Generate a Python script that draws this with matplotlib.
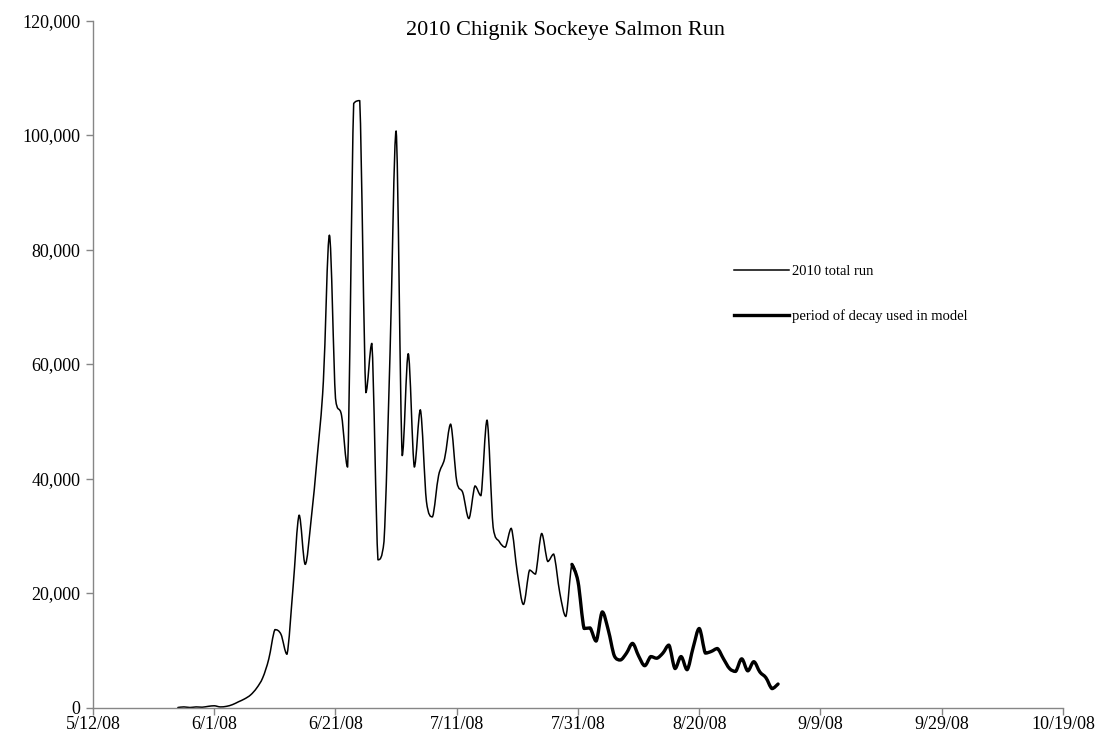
import pandas as pd
import matplotlib
matplotlib.use("Agg")
import matplotlib.pyplot as plt
import matplotlib.dates as mdates
from matplotlib.path import Path
from matplotlib.patches import PathPatch
from matplotlib.lines import Line2D
from matplotlib.ticker import FuncFormatter

# Daily sockeye counts, 5/26 through 9/2
RUN_START = "2008-05-26"
total_run = [
    0, 100, 0, 100, 50, 200, 300, 100, 200, 500,
    1000, 1500, 2200, 3400, 5200, 8500, 13600, 12800, 9300, 21000,
    33600, 25000, 33000, 44000, 57000, 82500, 54000, 51000, 42000, 105500,
    106000, 55000, 63600, 25800, 29000, 62000, 100700, 44000, 61800, 42000,
    52000, 36000, 33300, 40500, 43500, 49500, 39500, 37500, 33000, 38700,
    37000, 50200, 31500, 29000, 28000, 31300, 23500, 18000, 24000, 23300,
    30400, 25500, 26800, 20000, 15900, 25000, 22000, 13800, 13900, 11600,
    16700, 13500, 9000, 8300, 9500, 11200, 9000, 7300, 8900, 8600,
    9500, 10900, 6800, 8900, 6600, 10500, 13800, 9500, 9800, 10300,
    8500, 6800, 6300, 8500, 6400, 8000, 6200, 5200, 3300, 4100,
]
DECAY_START = "2008-07-30"

x_ticks = pd.date_range("2008-05-12", "2008-10-19", freq="20D")

dates = pd.date_range(RUN_START, periods=len(total_run), freq="D")
x_all = mdates.date2num(dates.to_pydatetime())
decay_idx = list(dates).index(pd.Timestamp(DECAY_START))


def smooth_path(xs, ys):
    # cubic bezier through every point; control points kept inside each
    # segment's y-range so the curve doesn't overshoot the peaks
    verts = [(xs[0], ys[0])]
    codes = [Path.MOVETO]
    n = len(xs)
    for i in range(n - 1):
        x0, y0 = (xs[i - 1], ys[i - 1]) if i > 0 else (xs[i], ys[i])
        x1, y1 = xs[i], ys[i]
        x2, y2 = xs[i + 1], ys[i + 1]
        x3, y3 = (xs[i + 2], ys[i + 2]) if i + 2 < n else (x2, y2)
        lo, hi = min(y1, y2), max(y1, y2)
        c1y = min(max(y1 + (y2 - y0) / 6.0, lo), hi)
        c2y = min(max(y2 - (y3 - y1) / 6.0, lo), hi)
        c1 = (x1 + (x2 - x0) / 6.0, c1y)
        c2 = (x2 - (x3 - x1) / 6.0, c2y)
        verts += [c1, c2, (x2, y2)]
        codes += [Path.CURVE4] * 3
    return Path(verts, codes)


plt.rcParams["font.family"] = ["Liberation Serif", "DejaVu Serif"]

fig = plt.figure(figsize=(11.02, 7.49), dpi=100)
ax = fig.add_axes([93 / 1102, 1 - 707.5 / 749, (1063 - 93) / 1102, (707.5 - 20.5) / 749])

ax.add_patch(PathPatch(smooth_path(x_all, total_run), fill=False,
                       edgecolor="black", lw=1.1, capstyle="round", joinstyle="round"))
ax.add_patch(PathPatch(smooth_path(x_all[decay_idx:], total_run[decay_idx:]), fill=False,
                       edgecolor="black", lw=2.4, capstyle="round", joinstyle="round"))

xt = mdates.date2num(x_ticks.to_pydatetime())
ax.set_xlim(xt[0], xt[-1])
ax.set_ylim(0, 120000)
ax.set_xticks(xt)
ax.set_xticklabels([f"{d.month}/{d.day}/{d.strftime('%y')}" for d in x_ticks])
ax.set_yticks(range(0, 120001, 20000))
ax.yaxis.set_major_formatter(FuncFormatter(lambda v, p: f"{int(v):,}"))

for side in ["top", "right"]:
    ax.spines[side].set_visible(False)
for side in ["left", "bottom"]:
    ax.spines[side].set_color("#868686")
    ax.spines[side].set_linewidth(1.0)
ax.tick_params(axis="both", colors="#868686", labelcolor="black", labelsize=13,
               length=5, width=1.0)
ax.tick_params(axis="x", pad=1)
ax.tick_params(axis="y", pad=4)

fig.text(565 / 1102, 1 - 31 / 749, "2010 Chignik Sockeye Salmon Run",
         ha="center", va="center", fontsize=16)

handles = [Line2D([], [], color="black", lw=1.1),
           Line2D([], [], color="black", lw=2.4)]
ax.legend(handles, ["2010 total run", "period of decay used in model"],
          loc="upper left", bbox_to_anchor=(734 / 1102, 1 - 265 / 749),
          bbox_transform=fig.transFigure, frameon=False, fontsize=10.5,
          handlelength=3.8, handletextpad=0.15, labelspacing=2.1, borderpad=0,
          borderaxespad=0)

fig.savefig("out.png", dpi=100)
